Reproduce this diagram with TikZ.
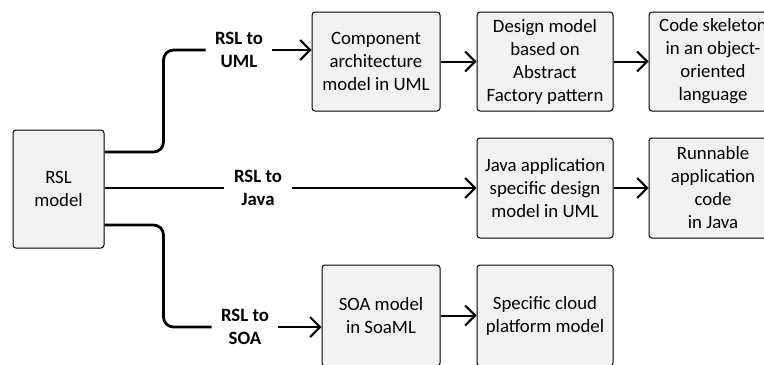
\documentclass[tikz,border=0pt]{standalone}
\usepackage{fontspec}
\setmainfont{Carlito}
\usetikzlibrary{arrows.meta}
\definecolor{boxfill}{HTML}{F2F2F2}

\begin{document}
\begin{tikzpicture}[x=0.5pt,y=-0.5pt]
\tikzstyle{every node}=[font=\fontsize{9.4}{11.5}\selectfont, align=center]
\tikzstyle{box}=[draw, fill=boxfill, rounded corners=1.5pt, line width=0.5pt, inner sep=0pt, minimum height=49.5pt]
\tikzstyle{trans}=[font=\fontsize{9.4}{11.5}\selectfont\bfseries, inner sep=4.5pt]
\tikzstyle{bent}=[line width=1.4pt, rounded corners=5pt]
\tikzstyle{arr}=[line width=1pt, -{Straight Barb[length=5pt,width=10pt]}]
\useasboundingbox (0,0) rectangle (764,364);
\draw (58.5,189) node (rsl) [box, minimum width=45.5pt, minimum height=59pt] {RSL\\model};
\draw (376,61.5) node (comp) [box, minimum width=64pt] {Component\\architecture\\model in UML};
\draw (545,61.5) node (design) [box, minimum width=68pt] {Design model\\based on\\Abstract\\Factory pattern};
\draw (713,61.5) node (code) [box, minimum width=64pt] {Code skeleton\\in an object-\\oriented\\language};
\draw (545,188) node (java) [box, minimum width=68pt, minimum height=50pt] {Java application\\specific design\\model in UML};
\draw (713,188) node (run) [box, minimum width=64pt, minimum height=50pt] {Runnable\\application\\code\\in Java};
\draw (381,315.5) node (soa) [box, minimum width=59pt, minimum height=50.5pt] {SOA model\\in SoaML};
\draw (545,315.5) node (cloud) [box, minimum width=68pt, minimum height=50.5pt] {Specific cloud\\platform model};
\draw (239,50) node (umlLbl) [trans] {RSL to\\UML};
\draw (258,188) node (javaLbl) [trans, inner sep=5pt] {RSL to\\Java};
\draw (245,327) node (soaLbl) [trans] {RSL to\\SOA};
\draw[bent] ([yshift=18.5pt]rsl.east) -- ++(59,0) |- (umlLbl.west);
\draw[line width=0.8pt] (rsl.east |- javaLbl.west) -- (javaLbl.west);
\draw[bent] ([yshift=-18pt]rsl.east) -- ++(59,0) |- (soaLbl.west);
\draw[arr] (umlLbl.east) -- (umlLbl.east -| comp.west);
\draw[arr] (javaLbl.east) -- (java.west);
\draw[arr] (soaLbl.east) -- (soaLbl.east -| soa.west);
\draw[arr] (comp) -- (design);
\draw[arr] (design) -- (code);
\draw[arr] (java) -- (run);
\draw[arr] (soa) -- (cloud);
\end{tikzpicture}
\end{document}
